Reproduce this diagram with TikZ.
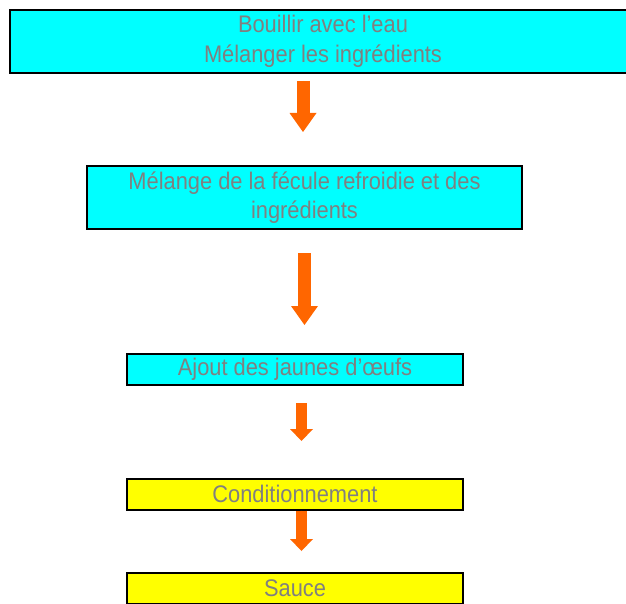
\documentclass[tikz,border=0pt]{standalone}
\usepackage{fontspec}
\setmainfont[FakeStretch=0.91]{Liberation Sans}
\usetikzlibrary{arrows.meta}
\definecolor{fondcyan}{HTML}{00FFFF}
\definecolor{fondjaune}{HTML}{FFFF00}
\definecolor{textegris}{HTML}{808080}
\definecolor{flecheorange}{HTML}{FF6600}

\begin{document}
\begin{tikzpicture}[x=1pt,y=-1pt,line join=miter,
	etape/.style={draw=black,line width=2pt,fill=fondcyan,text=textegris,align=center,inner sep=0pt,minimum width=336pt,minimum height=31pt,font=\fontsize{24}{29.5}\selectfont},
	fleche/.style={draw=flecheorange,fill=flecheorange,line width=13pt,-{Triangle[width=27pt,length=19pt,line width=0pt]}},
	petitefleche/.style={draw=flecheorange,fill=flecheorange,line width=11pt,-{Triangle[width=23pt,length=12pt,line width=0pt]}}]
		\useasboundingbox (0,0) rectangle (626,604);
		
		% le premier cadre sort de l'image a droite
		\draw[line width=2pt,fill=fondcyan] (10,10) rectangle (700,73);
		\node[etape,draw=none,fill=none,minimum height=63pt] (cuisson) at (323,41.5) {Bouillir avec l’eau\\Mélanger les ingrédients};
		\node[etape,minimum width=435pt,minimum height=63pt] (melange) at (304.5,197.5) {Mélange de la fécule refroidie et des\\ingrédients};
		\node[etape] (jaunes) at (295,369) {Ajout des jaunes d’œufs};
		\node[etape,fill=fondjaune] (condition) at (295,494) {Conditionnement};
		\node[etape,fill=fondjaune] (sauce) at (295,588) {Sauce};
		
		% axes des fleches
		\coordinate (axe1) at (303,0);
		\coordinate (axe2) at (304.5,0);
		\coordinate (axe3) at (301.5,0);
		
		\draw[fleche,shorten <=7pt,shorten >=33pt] (cuisson.south -| axe1)--(melange.north -| axe1);
		\draw[fleche,shorten <=23pt,shorten >=27.5pt] (melange.south -| axe2)--(jaunes.north -| axe2);
		\draw[petitefleche,shorten <=17.5pt,shorten >=36.5pt] (jaunes.south -| axe3)--(condition.north -| axe3);
		\draw[petitefleche,shorten >=20.5pt] (condition.south -| axe3)--(sauce.north -| axe3);
		\end{tikzpicture}
\end{document}
